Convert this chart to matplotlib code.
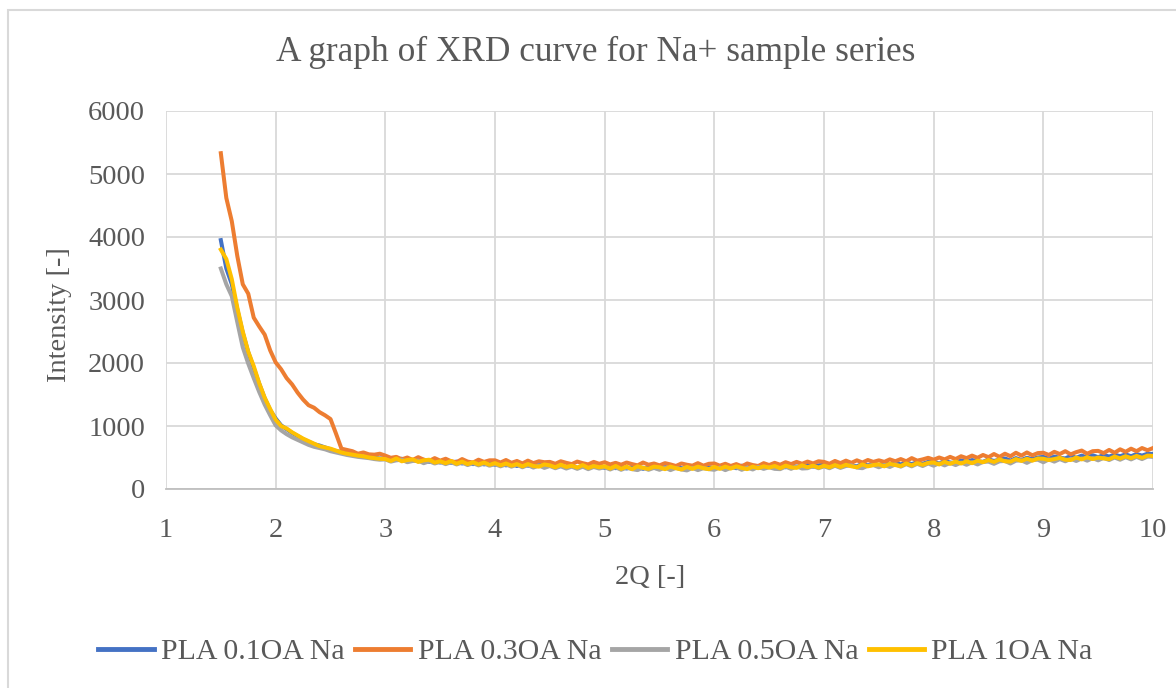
import numpy as np
import matplotlib
matplotlib.use("Agg")
import matplotlib.pyplot as plt
from matplotlib.patches import Rectangle

# x grid (2Q) every 0.05 from 1.5 to 10
two_theta = np.round(np.arange(1.5, 10.0001, 0.05), 2)

pla_01 = [
    3950, 3500, 3250, 2850, 2480, 2170, 1920, 1670, 1440, 1250,
    1120, 1010, 950, 890, 840, 790, 750, 710, 690, 660,
    630, 600, 590, 570, 550, 530, 515, 505, 495, 485,
    485, 455, 470, 480, 445, 460, 440, 465, 430, 450,
    420, 445, 415, 435, 405, 430, 395, 425, 390, 415,
    385, 405, 375, 400, 365, 395, 370, 360, 390, 355,
    380, 350, 375, 345, 370, 335, 365, 340, 360, 365,
    335, 360, 330, 355, 325, 350, 355, 320, 350, 335,
    325, 350, 320, 355, 330, 320, 355, 325, 360, 345,
    330, 355, 335, 360, 330, 370, 340, 365, 345, 330,
    370, 340, 375, 345, 380, 350, 370, 385, 355, 375,
    385, 355, 390, 365, 395, 370, 360, 400, 375, 405,
    375, 410, 385, 415, 390, 420, 395, 425, 400, 430,
    435, 405, 445, 420, 410, 455, 425, 460, 440, 430,
    470, 445, 465, 485, 450, 490, 460, 495, 475, 500,
    510, 480, 515, 495, 485, 525, 495, 530, 500, 535,
    505, 540, 515, 545, 520, 550, 520, 555, 530, 560,
    555,
]

pla_03 = [
    5330, 4620, 4250, 3700, 3250, 3100, 2720, 2580, 2450, 2200,
    2010, 1900, 1760, 1660, 1530, 1420, 1330, 1290, 1220, 1170,
    1110, 880, 640, 620, 600, 560, 580, 550, 545, 560,
    530, 495, 510, 470, 500, 460, 505, 465, 445, 490,
    450, 480, 440, 425, 475, 435, 420, 465, 430, 455,
    455, 420, 460, 415, 445, 405, 450, 410, 440, 425,
    430, 400, 440, 415, 395, 435, 410, 390, 430, 400,
    425, 390, 415, 385, 420, 395, 375, 420, 385, 405,
    375, 410, 390, 365, 405, 385, 370, 410, 370, 400,
    405, 370, 400, 365, 395, 360, 405, 380, 365, 410,
    380, 415, 385, 425, 395, 430, 400, 435, 405, 440,
    430, 400, 445, 410, 450, 415, 455, 420, 460, 430,
    455, 430, 470, 440, 475, 440, 490, 450, 470, 495,
    465, 500, 470, 510, 475, 520, 490, 530, 495, 540,
    505, 555, 510, 560, 520, 575, 530, 580, 535, 570,
    575, 540, 590, 555, 600, 550, 585, 610, 560, 600,
    605, 570, 620, 575, 630, 590, 640, 600, 650, 615,
    650,
]

pla_05 = [
    3500, 3250, 3060, 2650, 2250, 1990, 1760, 1540, 1340, 1170,
    1010, 930, 870, 820, 780, 740, 700, 670, 650, 630,
    600, 580, 560, 540, 525, 510, 500, 490, 475, 465,
    470, 435, 455, 465, 425, 445, 450, 410, 440, 405,
    430, 395, 425, 390, 420, 380, 410, 375, 405, 370,
    395, 360, 390, 355, 385, 345, 380, 340, 375, 335,
    365, 330, 360, 325, 355, 320, 355, 315, 350, 325,
    345, 310, 345, 305, 340, 315, 300, 340, 305, 335,
    305, 340, 300, 335, 310, 295, 335, 300, 330, 315,
    305, 340, 300, 335, 345, 305, 340, 310, 350, 320,
    345, 320, 315, 355, 320, 360, 325, 330, 365, 330,
    360, 330, 370, 335, 365, 375, 340, 330, 370, 380,
    345, 380, 350, 390, 355, 395, 360, 400, 365, 405,
    370, 410, 375, 415, 380, 420, 385, 425, 390, 430,
    435, 400, 440, 445, 405, 450, 455, 415, 460, 465,
    425, 470, 435, 475, 440, 480, 445, 485, 450, 490,
    455, 495, 460, 500, 465, 505, 470, 510, 475, 515,
    510,
]

pla_1 = [
    3800, 3650, 3330, 2880, 2500, 2180, 1950, 1680, 1450, 1270,
    1100, 1000, 960, 900, 850, 800, 760, 720, 680, 660,
    640, 610, 580, 560, 545, 530, 520, 500, 490, 480,
    475, 445, 485, 440, 460, 470, 430, 455, 465, 420,
    440, 410, 445, 400, 435, 395, 425, 390, 420, 385,
    410, 375, 405, 370, 395, 360, 395, 365, 355, 390,
    375, 345, 385, 350, 370, 340, 380, 335, 365, 345,
    360, 325, 365, 320, 355, 315, 360, 335, 320, 355,
    345, 315, 355, 330, 310, 350, 320, 355, 330, 315,
    350, 320, 355, 325, 360, 335, 315, 355, 330, 360,
    340, 365, 330, 370, 345, 335, 375, 345, 370, 340,
    370, 345, 380, 350, 385, 360, 345, 390, 360, 380,
    390, 360, 400, 380, 365, 405, 375, 410, 385, 415,
    420, 390, 430, 400, 435, 405, 440, 410, 450, 425,
    460, 430, 470, 440, 435, 475, 445, 480, 450, 485,
    480, 460, 475, 495, 465, 460, 500, 470, 505, 475,
    500, 485, 475, 515, 485, 520, 490, 525, 495, 530,
    525,
]

series_names = ["PLA 0.1OA Na", "PLA 0.3OA Na", "PLA 0.5OA Na", "PLA 1OA Na"]
series_values = [pla_01, pla_03, pla_05, pla_1]
series_colors = ["#4472C4", "#ED7D31", "#A5A5A5", "#FFC000"]

x_ticks = [1, 2, 3, 4, 5, 6, 7, 8, 9, 10]
y_ticks = [0, 1000, 2000, 3000, 4000, 5000, 6000]

plt.rcParams['font.family'] = ['Liberation Serif', 'DejaVu Serif']
text_color = "#595959"

W, H = 1176, 688
fig = plt.figure(figsize=(W / 100, H / 100), dpi=100)
ax = fig.add_axes([166 / W, 1 - 489 / H, (1153 - 166) / W, (489 - 111) / H])

for name, vals, col in zip(series_names, series_values, series_colors):
    ax.plot(two_theta, vals, color=col, lw=2.9, label=name, solid_joinstyle='round')

ax.set_xlim(1, 10)
ax.set_ylim(0, 6000)
ax.set_xticks(x_ticks)
ax.set_yticks(y_ticks)
ax.grid(True, color="#D9D9D9", lw=1.3)
ax.set_axisbelow(True)
for s in ax.spines.values():
    s.set_visible(False)
ax.spines['bottom'].set_visible(True)
ax.spines['bottom'].set_color("#BFBFBF")
ax.spines['bottom'].set_linewidth(1.3)
ax.tick_params(axis='both', length=0, labelsize=20.5, labelcolor=text_color)
ax.tick_params(axis='y', pad=15)
ax.tick_params(axis='x', pad=21)

fig.text(595.5 / W, 1 - 52 / H, "A graph of XRD curve for Na+ sample series",
         ha='center', va='center', fontsize=25.4, color=text_color)
fig.text(60 / W, 1 - 315 / H, "Intensity [-]", rotation=90,
         ha='center', va='center', fontsize=20.5, color=text_color)
fig.text(650.5 / W, 1 - 578 / H, "2Q [-]",
         ha='center', va='center', fontsize=20.5, color=text_color)

leg = fig.legend(loc='center', bbox_to_anchor=(595.5 / W, 1 - 652 / H), ncol=4,
                 frameon=False, fontsize=21.5, handlelength=1.85, handletextpad=0.25,
                 columnspacing=0.35, labelcolor=text_color)
for line in leg.get_lines():
    line.set_linewidth(3.5)

fig.patches.append(Rectangle((8 / W, -0.1), 1.2, 1 - 10 / H + 0.1,
                             transform=fig.transFigure, fill=False,
                             edgecolor="#D9D9D9", lw=1.5, zorder=0))

fig.savefig("out.png", dpi=100)
